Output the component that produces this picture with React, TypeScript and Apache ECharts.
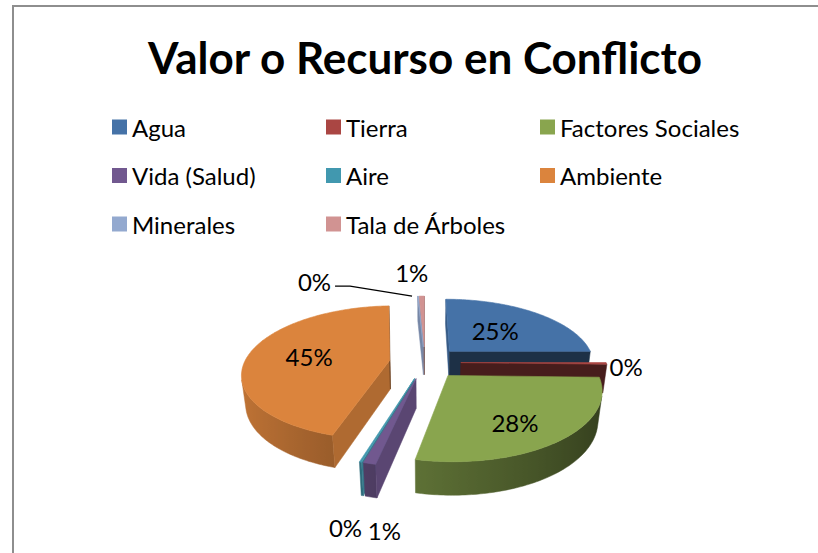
import { useEffect, useRef } from 'react';
import * as echarts from 'echarts';

// ---------- data ----------
const titleText = 'Valor o Recurso en Conflicto';
const categories = ['Agua', 'Tierra', 'Factores Sociales', 'Vida (Salud)', 'Aire', 'Ambiente', 'Minerales', 'Tala de Árboles'];
const shares = [25.0, 0.4, 27.9, 1.1, 0.2, 44.6, 0.1, 0.7];
const colors = ['#4572A7', '#AA4643', '#89A54E', '#71588F', '#4198AF', '#DB843D', '#93A9CF', '#D19392'];
const legendColumns = [
  ['Agua', 'Vida (Salud)', 'Minerales'],
  ['Tierra', 'Aire', 'Tala de Árboles'],
  ['Factores Sociales', 'Ambiente'],
];

// ---------- layout / style ----------
const FONT = 'Lato, "Open Sans", sans-serif';
const CX = 425, CY = 391, R = 142, H = 32, EXP = 35, TILT = 29, FOCAL = 700;
const INNER_R = 0.55;
type Placement = { inside?: boolean; dx?: number; dy?: number; align?: string; leader?: number[][] };
const labelPlacement: Placement[] = [
  { inside: true, dx: -4, dy: 1 },
  { dx: 3, dy: 3, align: 'left' },
  { inside: true, dx: 9, dy: 14 },
  { dx: 15, dy: 67, align: 'center' },
  { dx: -15, dy: 65, align: 'center' },
  { inside: true, dx: -3, dy: 0 },
  { dx: -87, dy: -15, align: 'right', leader: [[-6, 0], [-68, -10], [-83, -10]] },
  { dx: -10, dy: -24, align: 'center' },
];

const TOTAL = shares.reduce((s, v) => s + v, 0);
const starts = shares.map((_, i) => shares.slice(0, i).reduce((s, v) => s + v, 0));
const rad = (d: number) => (d * Math.PI) / 180;
const sinT = Math.sin(rad(TILT)), cosT = Math.cos(rad(TILT));

function P(X: number, Y: number, Z: number): number[] {
  const u = Z * sinT + Y * cosT;
  const w = Z * cosT - Y * sinT;
  const k = FOCAL / (FOCAL + w);
  return [CX + X * k, CY - u * k];
}
function area(pts: number[][]) {
  let s = 0;
  for (let i = 0; i < pts.length; i++) {
    const a = pts[i], b = pts[(i + 1) % pts.length];
    s += a[0] * b[1] - b[0] * a[1];
  }
  return s / 2;
}
function shade(hex: string, f: number) {
  const n = parseInt(hex.slice(1), 16);
  const r = (n >> 16) & 255, g = (n >> 8) & 255, b = n & 255;
  const c = (x: number) => Math.max(0, Math.min(255, Math.round(x * f)));
  return `rgb(${c(r)},${c(g)},${c(b)})`;
}

function makeRender(i: number) {
  return (_params: any, api: any) => {
    const v = api.value(0) as number;
    const a0 = (starts[i] / TOTAL) * 360;
    const a1 = a0 + (v / TOTAL) * 360;
    const m = (a0 + a1) / 2;
    const ox = EXP * Math.sin(rad(m)), oz = EXP * Math.cos(rad(m));
    const rim = (a: number, y: number, r = R) => P(ox + r * Math.sin(rad(a)), y, oz + r * Math.cos(rad(a)));
    const cT = P(ox, H, oz), cB = P(ox, 0, oz);
    const base = colors[i];
    const children: any[] = [];

    // outer wall
    const n = Math.max(2, Math.ceil(a1 - a0));
    const vis: number[][] = [];
    for (let k = 0; k < n; k++) {
      const b0 = a0 + ((a1 - a0) * k) / n, b1 = a0 + ((a1 - a0) * (k + 1)) / n;
      const q = [rim(b1, H), rim(b0, H), rim(b0, 0), rim(b1, 0)];
      if (area(q) > 0) vis.push([b0, b1]);
    }
    if (vis.length) {
      const bs = [vis[0][0], ...vis.map((s) => s[1])];
      const top = bs.map((b) => rim(b, H));
      const bot = bs.map((b) => rim(b, 0)).reverse();
      const pts = [...top, ...bot];
      const xs = pts.map((p) => p[0]);
      const minX = Math.min(...xs), maxX = Math.max(...xs);
      let fill: any = shade(base, 0.6);
      if (maxX - minX > 1.5) {
        const stops = bs
          .map((b) => ({ offset: (rim(b, H)[0] - minX) / (maxX - minX), color: shade(base, 0.63 - 0.26 * Math.sin(rad(b))) }))
          .map((s) => ({ offset: Math.max(0, Math.min(1, s.offset)), color: s.color }))
          .sort((p, q) => p.offset - q.offset);
        fill = new echarts.graphic.LinearGradient(0, 0, 1, 0, stops);
      }
      children.push({ type: 'polygon', shape: { points: pts }, style: { fill, stroke: fill, lineWidth: 0.5 } });
    }
    // cut faces
    const sFace = [cT, cB, rim(a0, 0), rim(a0, H)];
    if (area(sFace) > 0) {
      const c = shade(base, 0.8);
      children.push({ type: 'polygon', shape: { points: sFace }, style: { fill: c, stroke: c, lineWidth: 0.5 } });
    }
    const eFace = [cT, rim(a1, H), rim(a1, 0), cB];
    if (area(eFace) > 0) {
      const c = shade(base, 0.42);
      children.push({ type: 'polygon', shape: { points: eFace }, style: { fill: c, stroke: c, lineWidth: 0.5 } });
    }
    // top face
    const arc: number[][] = [];
    for (let k = 0; k <= n; k++) arc.push(rim(a0 + ((a1 - a0) * k) / n, H));
    children.push({ type: 'polygon', shape: { points: [cT, ...arc] }, style: { fill: base, stroke: base, lineWidth: 0.6 } });

    // label
    const txt = Math.round((v / TOTAL) * 100) + '%';
    const pl = labelPlacement[i];
    let lx: number, ly: number, align = 'center';
    if (pl.inside) {
      const p = rim(m, H, R * INNER_R);
      lx = p[0] + (pl.dx || 0);
      ly = p[1] + (pl.dy || 0);
    } else {
      const anc = rim(m, H);
      lx = anc[0] + (pl.dx || 0);
      ly = anc[1] + (pl.dy || 0);
      align = pl.align || 'center';
      if (pl.leader) {
        children.push({
          type: 'polyline',
          shape: { points: pl.leader.map((d) => [anc[0] + d[0], anc[1] + d[1]]) },
          style: { stroke: '#000', lineWidth: 1.2, fill: null },
        });
      }
    }
    children.push({
      type: 'text',
      x: lx,
      y: ly,
      style: { text: txt, fill: '#000', font: `24px ${FONT}`, align, verticalAlign: 'middle' },
    });
    return { type: 'group', children };
  };
}

// depth order: far slices drawn first
const depth = shares.map((_, i) => {
  const m = ((starts[i] + shares[i] / 2) / TOTAL) * 360;
  return EXP * Math.cos(rad(m));
});
const rank = depth.map((d) => depth.filter((o) => o > d).length);

export default function App() {
  const ref = useRef<HTMLDivElement>(null);
  useEffect(() => {
    if (!ref.current) return;
    const chart = echarts.init(ref.current, undefined, { renderer: 'svg' });
    chart.setOption({
      animation: false,
      backgroundColor: '#ffffff',
      title: {
        text: titleText,
        left: 425,
        top: 35,
        padding: 0,
        textAlign: 'center',
        textStyle: { fontFamily: FONT, fontSize: 44, fontWeight: 'bold', color: '#000' },
      },
      legend: legendColumns.map((names, c) => ({
        orient: 'vertical',
        left: [112, 326, 540][c],
        top: 115,
        padding: 0,
        itemWidth: 15,
        itemHeight: 15,
        itemGap: 24.5,
        icon: 'rect',
        selectedMode: false,
        data: names,
        textStyle: { fontFamily: FONT, fontSize: 24, color: '#000', lineHeight: 22 },
      })),
      graphic: [
        {
          type: 'rect',
          silent: true,
          z: -10,
          shape: { x: 13, y: 6, width: 900, height: 700 },
          style: { fill: 'none', stroke: '#8E8E8E', lineWidth: 2 },
        },
      ],
      series: categories.map((name, i) => ({
        type: 'custom',
        name,
        coordinateSystem: 'none',
        z: 2 + rank[i],
        itemStyle: { color: colors[i] },
        data: [[shares[i]]],
        renderItem: makeRender(i),
      })),
    });
    return () => chart.dispose();
  }, []);
  return <div ref={ref} style={{ position: 'fixed', left: 0, top: 0, width: 818, height: 553 }} />;
}
